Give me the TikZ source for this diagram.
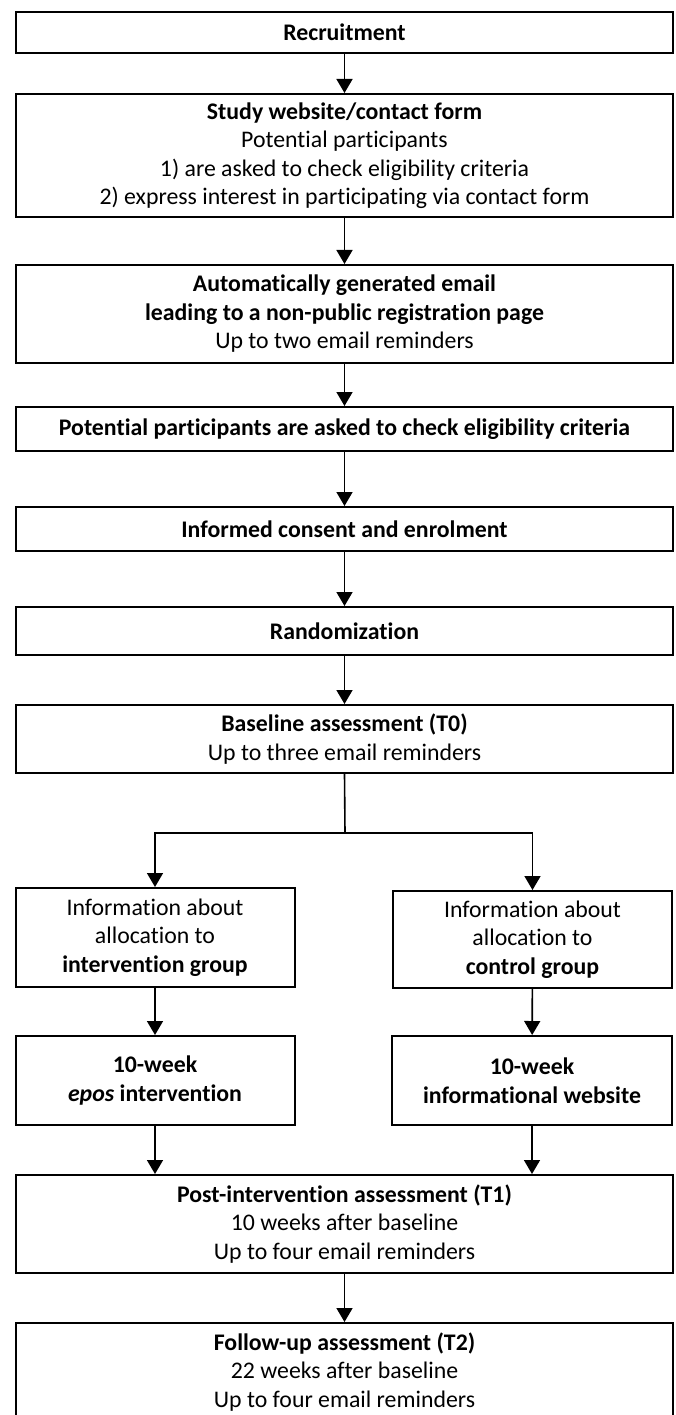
\documentclass[tikz,border=0pt]{standalone}
\usepackage{fontspec}
\setmainfont{Carlito}[Ligatures={NoCommon,NoRare}]
\usetikzlibrary{arrows.meta}
\begin{document}
\begin{tikzpicture}[x=1pt,y=-1pt,
  box/.style={draw, line width=2pt, align=center, inner sep=0pt, font=\fontsize{23.8}{28.5}\selectfont},
  wide/.style={box, minimum width=657pt},
  half/.style={box, minimum width=279pt},
  arr/.style={line width=1.6pt, -{Triangle[length=14pt,width=16pt]}},
  conn/.style={line width=1.6pt}]
\useasboundingbox (0,0) rectangle (676,1415);
\node[wide, minimum height=41pt] (rec) at (344.5,32.5) {\textbf{Recruitment}};
\node[wide, minimum height=123pt] (web) at (344.5,155.5) {\textbf{Study website/contact form}\\Potential participants\\1) are asked to check eligibility criteria\\2) express interest in participating via contact form};
\node[wide, minimum height=98pt] (mail) at (344.5,314) {\textbf{Automatically generated email}\\\textbf{leading to a non-public registration page}\\Up to two email reminders};
\node[wide, minimum height=44pt] (elig) at (344.5,429) {\textbf{Potential participants are asked to check eligibility criteria}};
\node[wide, minimum height=44pt] (cons) at (344.5,529) {\textbf{Informed consent and enrolment}};
\node[wide, minimum height=48pt] (rand) at (344.5,631) {\textbf{Randomization}};
\node[wide, minimum height=68pt] (base) at (344.5,739) {\textbf{Baseline assessment (T0)}\\Up to three email reminders};
\coordinate (j) at (345,833);
\node[half, minimum height=99pt] (infoI) at (155,937.5) {Information about\\allocation to\\\textbf{intervention group}};
\node[half, minimum height=97pt] (infoC) at (532.5,939.5) {Information about\\allocation to\\\textbf{control group}};
\node[half, minimum height=89pt] (epos) at (155,1080.5) {\textbf{10-week}\\\textbf{\textit{epos} intervention}};
\node[half, minimum height=89pt, minimum width=280pt] (site) at (532,1080.5) {\textbf{10-week}\\\textbf{informational website}};
\node[wide, minimum height=98pt] (post) at (344.5,1224) {\textbf{Post-intervention assessment (T1)}\\10 weeks after baseline\\Up to four email reminders};
\node[wide, minimum height=98pt] (fu) at (344.5,1372) {\textbf{Follow-up assessment (T2)}\\22 weeks after baseline\\Up to four email reminders};
\draw[arr] (rec) -- (web);
\draw[arr] (web) -- (mail);
\draw[arr] (mail) -- (elig);
\draw[arr] (elig) -- (cons);
\draw[arr] (cons) -- (rand);
\draw[arr] (rand) -- (base);
\draw[conn] (base.south) -- (j);
\draw[arr] (j) -| (infoI.north);
\draw[arr] (j) -| (infoC.north);
\draw[arr] (infoI) -- (epos);
\draw[arr] (infoC) -- (site);
\draw[arr] (epos.south) -- (epos.south |- post.north);
\draw[arr] (site.south) -- (site.south |- post.north);
\draw[arr] (post) -- (fu);
\end{tikzpicture}
\end{document}
